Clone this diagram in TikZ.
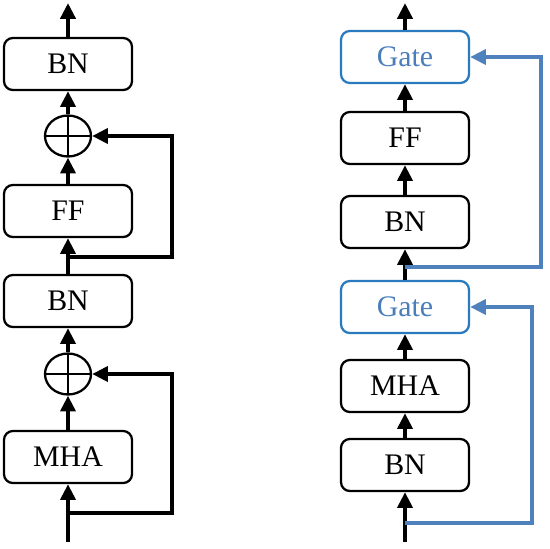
\documentclass[tikz,border=0pt]{standalone}
\usepackage{fontspec}
\setmainfont{Liberation Serif}
\usetikzlibrary{arrows.meta,positioning,shapes.geometric}
\definecolor{gateblue}{HTML}{2A7AC0}
\definecolor{gatetext}{HTML}{4A7EBB}
\definecolor{skipblue}{HTML}{4F81BD}

\begin{document}
\begin{tikzpicture}[x=0.02cm,y=-0.02cm,font=\fontsize{17}{20}\selectfont,
  blk/.style={draw,line width=1.3pt,rounded corners=5pt,minimum width=2.56cm,minimum height=1.04cm,inner sep=0pt},
  gate/.style={blk,draw=gateblue,text=gatetext},
  add/.style={draw,ellipse,line width=1.3pt,minimum width=0.92cm,minimum height=0.82cm,inner sep=0pt,
    path picture={\draw[line width=1.3pt] (path picture bounding box.north)--(path picture bounding box.south)
      (path picture bounding box.west)--(path picture bounding box.east);}},
  arr/.style={-{Triangle[length=9pt,width=8.5pt]},line width=2.8pt},
  skip/.style={arr,skipblue}]
\useasboundingbox (0,0) rectangle (550,548);
% left: residual block
\node[blk] (bn2) at (68,64) {BN};
\node[add] (add2) at (68,136) {};
\node[blk] (ff) at (68,211) {FF};
\node[blk] (bn1) at (68,301) {BN};
\node[add] (add1) at (68,374) {};
\node[blk] (mha) at (68,457) {MHA};
\coordinate (in) at (68,542);
\coordinate (out) at (68,3);
\coordinate (s1) at (68,513);
\coordinate (s2) at (68,257);
\draw[arr](in)--(mha);\draw[arr](mha)--(add1);\draw[arr](add1)--(bn1);
\draw[arr](bn1)--(ff);\draw[arr](ff)--(add2);\draw[arr](add2)--(bn2);\draw[arr](bn2)--(out);
\draw[arr](s1)--++(104,0)|-(add1);
\draw[arr](s2)--++(104,0)|-(add2);
% right: gated block
\node[blk] (rbn1) at (405,465) {BN};
\node[blk] (rmha) at (405,386) {MHA};
\node[gate] (gate1) at (405,307) {Gate};
\node[blk] (rbn2) at (405,222) {BN};
\node[blk] (rff) at (405,138) {FF};
\node[gate] (gate2) at (405,57) {Gate};
\coordinate (rin) at (405,542);
\coordinate (rout) at (405,3);
\coordinate (t1) at (405,523);
\coordinate (t2) at (405,267);
\draw[arr](rin)--(rbn1);\draw[arr](rbn1)--(rmha);\draw[arr](rmha)--(gate1);
\draw[arr](gate1)--(rbn2);\draw[arr](rbn2)--(rff);\draw[arr](rff)--(gate2);\draw[arr](gate2)--(rout);
\draw[skip](t1)--++(127,0)|-(gate1);
\draw[skip](t2)--++(136,0)|-(gate2);
\end{tikzpicture}
\end{document}
